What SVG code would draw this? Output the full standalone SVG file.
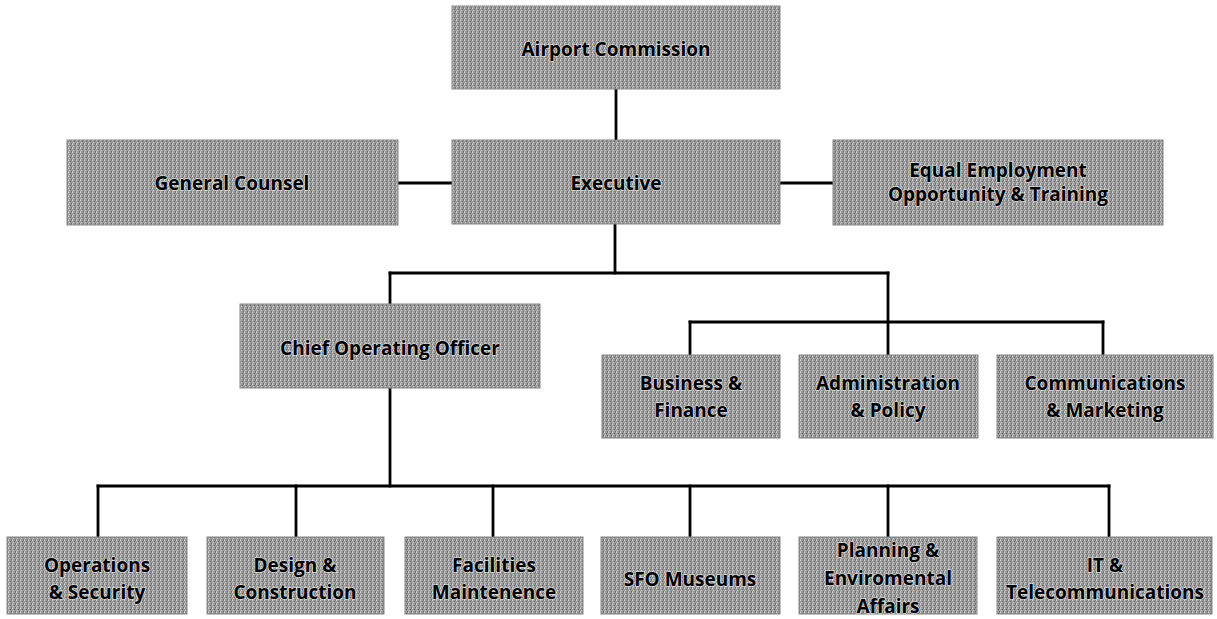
<svg xmlns="http://www.w3.org/2000/svg" width="1217" height="619" viewBox="0 0 1217 619">
  <defs>
    <pattern id="dither" x="0" y="0" width="4" height="4" patternUnits="userSpaceOnUse">
      <rect width="4" height="4" fill="#9a9a9a"/>
      <rect x="0" y="0" width="1" height="1" fill="#d4d4d4"/>
      <rect x="2" y="1" width="1" height="1" fill="#666666"/>
      <rect x="1" y="2" width="1" height="1" fill="#cacaca"/>
      <rect x="3" y="3" width="1" height="1" fill="#6e6e6e"/>
      <rect x="3" y="0" width="1" height="1" fill="#808080"/>
      <rect x="0" y="3" width="1" height="1" fill="#bcbcbc"/>
    </pattern>
  </defs>
  <style>
    .box { fill: url(#dither); stroke: #858585; stroke-width: 1; }
    .lbl { font-family: "Open Sans", "Liberation Sans", sans-serif; font-weight: 700; font-size: 19px; fill: #000; text-anchor: middle; stroke: #ffffff; stroke-width: 1.6px; stroke-opacity: 0.55; paint-order: stroke; }
    .ln { stroke: #000; stroke-width: 2.8; fill: none; stroke-linecap: square; }
  </style>
  <rect width="1217" height="619" fill="#ffffff"/>

  <g id="connectors">
    <line class="ln" x1="616" y1="89" x2="616" y2="140"/>
    <line class="ln" x1="398" y1="183" x2="452" y2="183"/>
    <line class="ln" x1="780" y1="183" x2="833" y2="183"/>
    <line class="ln" x1="615" y1="224" x2="615" y2="273"/>
    <line class="ln" x1="390" y1="273" x2="888" y2="273"/>
    <line class="ln" x1="390" y1="273" x2="390" y2="304"/>
    <line class="ln" x1="888" y1="273" x2="888" y2="355"/>
    <line class="ln" x1="690" y1="322" x2="1103" y2="322"/>
    <line class="ln" x1="690" y1="322" x2="690" y2="355"/>
    <line class="ln" x1="1103" y1="322" x2="1103" y2="355"/>
    <line class="ln" x1="390" y1="388" x2="390" y2="486"/>
    <line class="ln" x1="98" y1="486" x2="1109" y2="486"/>
    <line class="ln" x1="98" y1="486" x2="98" y2="537"/>
    <line class="ln" x1="296" y1="486" x2="296" y2="537"/>
    <line class="ln" x1="493" y1="486" x2="493" y2="537"/>
    <line class="ln" x1="690" y1="486" x2="690" y2="537"/>
    <line class="ln" x1="888" y1="486" x2="888" y2="537"/>
    <line class="ln" x1="1109" y1="486" x2="1109" y2="537"/>
  </g>

  <g id="airport-commission">
    <rect class="box" x="452" y="6" width="328" height="83"/>
    <text class="lbl" x="616" y="56">Airport Commission</text>
  </g>
  <g id="general-counsel">
    <rect class="box" x="67" y="140" width="331" height="85"/>
    <text class="lbl" x="232" y="190">General Counsel</text>
  </g>
  <g id="executive">
    <rect class="box" x="452" y="140" width="328" height="84"/>
    <text class="lbl" x="616" y="190">Executive</text>
  </g>
  <g id="eeo-training">
    <rect class="box" x="833" y="140" width="330" height="85"/>
    <text class="lbl" x="998" y="177">Equal Employment</text>
    <text class="lbl" x="998" y="201">Opportunity &amp; Training</text>
  </g>
  <g id="coo">
    <rect class="box" x="240" y="304" width="300" height="84"/>
    <text class="lbl" x="390" y="355">Chief Operating Officer</text>
  </g>
  <g id="business-finance">
    <rect class="box" x="602" y="355" width="178" height="83"/>
    <text class="lbl" x="691" y="390">Business &amp;</text>
    <text class="lbl" x="691" y="417">Finance</text>
  </g>
  <g id="administration-policy">
    <rect class="box" x="799" y="355" width="179" height="83"/>
    <text class="lbl" x="888" y="390">Administration</text>
    <text class="lbl" x="888" y="417">&amp; Policy</text>
  </g>
  <g id="communications-marketing">
    <rect class="box" x="997" y="355" width="216" height="83"/>
    <text class="lbl" x="1105" y="390">Communications</text>
    <text class="lbl" x="1105" y="417">&amp; Marketing</text>
  </g>
  <g id="operations-security">
    <rect class="box" x="7" y="537" width="180" height="77"/>
    <text class="lbl" x="97" y="572">Operations</text>
    <text class="lbl" x="97" y="599">&amp; Security</text>
  </g>
  <g id="design-construction">
    <rect class="box" x="207" y="537" width="177" height="77"/>
    <text class="lbl" x="295" y="572">Design &amp;</text>
    <text class="lbl" x="295" y="599">Construction</text>
  </g>
  <g id="facilities-maintenence">
    <rect class="box" x="405" y="537" width="178" height="77"/>
    <text class="lbl" x="494" y="572">Facilities</text>
    <text class="lbl" x="494" y="599">Maintenence</text>
  </g>
  <g id="sfo-museums">
    <rect class="box" x="601" y="537" width="179" height="77"/>
    <text class="lbl" x="690" y="586">SFO Museums</text>
  </g>
  <g id="planning-environmental">
    <rect class="box" x="799" y="537" width="178" height="77"/>
    <text class="lbl" x="888" y="557">Planning &amp;</text>
    <text class="lbl" x="888" y="585">Enviromental</text>
    <text class="lbl" x="888" y="613">Affairs</text>
  </g>
  <g id="it-telecommunications">
    <rect class="box" x="997" y="537" width="215" height="77"/>
    <text class="lbl" x="1105" y="572">IT &amp;</text>
    <text class="lbl" x="1105" y="599">Telecommunications</text>
  </g>
</svg>
